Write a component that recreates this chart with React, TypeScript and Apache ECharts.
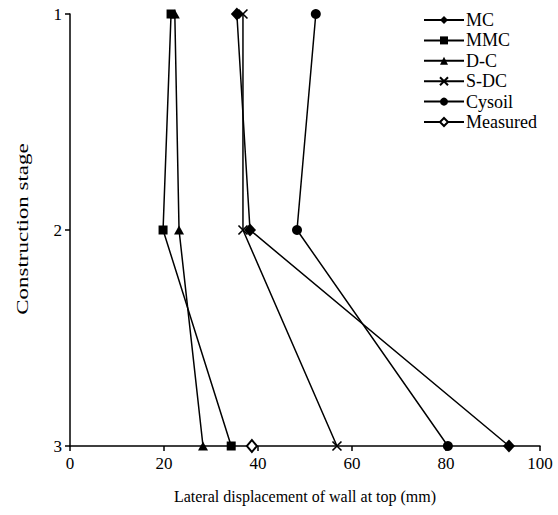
import React, { useEffect, useRef } from "react";
import * as echarts from "echarts";

const stages = [1, 2, 3];
const mcValues = [35.5, 38.3, 93.4];
const mmcValues = [21.5, 19.8, 34.3];
const dcValues = [22.3, 23.2, 28.3];
const sdcValues = [36.8, 36.8, 56.8];
const cysoilValues = [52.3, 48.3, 80.4];
const measuredStages = [3];
const measuredValues = [38.7];
const xTicks = [0, 20, 40, 60, 80, 100];

const FONT = "'Liberation Serif', 'DejaVu Serif', serif";

function pairs(vals: number[], st: number[]) {
  return vals.map((v, i) => [v, st[i]]);
}

export default function App() {
  const ref = useRef<HTMLDivElement>(null);
  useEffect(() => {
    if (!ref.current) return;
    const chart = echarts.init(ref.current, undefined, { renderer: "svg" });
    const base = {
      type: "line" as const,
      lineStyle: { color: "#000", width: 1.5 },
      itemStyle: { color: "#000" },
      symbolSize: 10,
    };
    chart.setOption({
      animation: false,
      backgroundColor: "#fff",
      grid: { left: 70, right: 18, top: 14, bottom: 69, containLabel: false },
      legend: {
        orient: "vertical",
        left: 423,
        top: 11,
        padding: 0,
        itemWidth: 40,
        itemHeight: 10,
        itemGap: 2.4,
        textStyle: { fontFamily: FONT, fontSize: 18, color: "#000", padding: [0, 0, 0, -3] },
        data: ["MC", "MMC", "D-C", "S-DC", "Cysoil", "Measured"],
      },
      graphic: [
        {
          type: "text",
          x: 22,
          y: 229,
          rotation: Math.PI / 2,
          scaleX: 1.35,
          style: {
            text: "Construction stage",
            font: "17px " + FONT,
            fill: "#000",
            align: "center",
            verticalAlign: "middle",
          },
        },
      ],
      xAxis: {
        type: "value",
        min: xTicks[0],
        max: xTicks[xTicks.length - 1],
        interval: 20,
        name: "Lateral displacement of wall at top (mm)",
        nameLocation: "middle",
        nameGap: 42,
        nameTextStyle: { fontFamily: FONT, fontSize: 16, color: "#000" },
        axisLine: { lineStyle: { color: "#000", width: 1.5 } },
        axisTick: { inside: false, length: 5, lineStyle: { color: "#000", width: 1.5 } },
        axisLabel: { fontFamily: FONT, fontSize: 17, color: "#000", margin: 9 },
        splitLine: { show: false },
      },
      yAxis: {
        type: "value",
        min: 1,
        max: 3,
        interval: 1,
        inverse: true,
        axisLine: { show: true, lineStyle: { color: "#000", width: 1.5 } },
        axisTick: { show: true, inside: false, length: 5, lineStyle: { color: "#000", width: 1.5 } },
        axisLabel: { fontFamily: FONT, fontSize: 17, color: "#000", margin: 8 },
        splitLine: { show: false },
      },
      series: [
        { ...base, name: "MC", symbol: "diamond", symbolSize: [12, 13], data: pairs(mcValues, stages) },
        { ...base, name: "MMC", symbol: "rect", symbolSize: 9, data: pairs(mmcValues, stages) },
        { ...base, name: "D-C", symbol: "triangle", symbolSize: [10, 9], data: pairs(dcValues, stages) },
        {
          ...base,
          name: "S-DC",
          symbol: "path://M0,0L10,10M0,10L10,0",
          symbolSize: 9,
          itemStyle: { color: "#000", borderColor: "#000", borderWidth: 1.6 },
          data: pairs(sdcValues, stages),
        },
        { ...base, name: "Cysoil", symbol: "circle", symbolSize: 10, data: pairs(cysoilValues, stages) },
        {
          ...base,
          name: "Measured",
          symbol: "emptyDiamond",
          symbolSize: [10, 12],
          itemStyle: { color: "#000", borderWidth: 1.5 },
          data: pairs(measuredValues, measuredStages),
        },
      ],
    });
    return () => chart.dispose();
  }, []);
  return <div ref={ref} style={{ width: 558, height: 515, position: "absolute", left: 0, top: 0 }} />;
}
